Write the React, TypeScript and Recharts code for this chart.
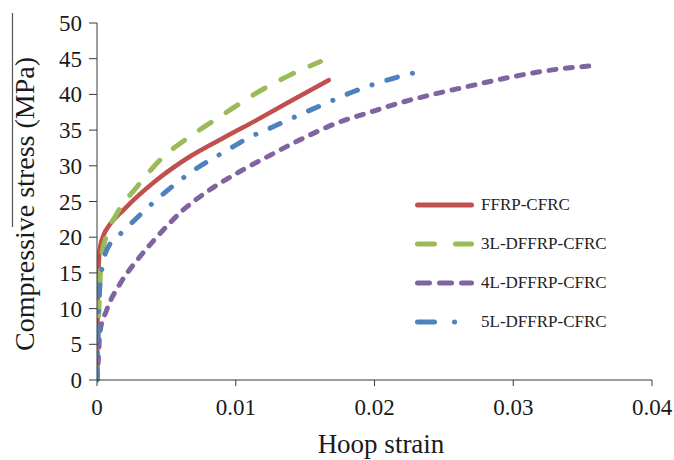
import { Label, Line, LineChart, XAxis, YAxis } from 'recharts'

const strainTicks = [0, 0.01, 0.02, 0.03, 0.04]
const stressTicks = [0, 5, 10, 15, 20, 25, 30, 35, 40, 45, 50]

const ffrpStrain = [0, 0.00005, 0.0001, 0.0002, 0.0005, 0.0009, 0.0019, 0.0043, 0.0067, 0.0091, 0.0115, 0.0139, 0.0167]
const ffrpStress = [0, 10, 15, 18.3, 20.4, 21.7, 23.8, 28.0, 31.3, 33.9, 36.4, 39.0, 42.0]

const l3Strain = [0, 0.00005, 0.0001, 0.0002, 0.0003, 0.0007, 0.0014, 0.0029, 0.0048, 0.0067, 0.0091, 0.0115, 0.0139, 0.0161]
const l3Stress = [0, 5, 8, 13, 16.8, 20.3, 23.2, 27.1, 31.3, 34.1, 37.2, 40.2, 42.7, 44.6]

const l4Strain = [0, 0.0001, 0.0002, 0.0007, 0.0017, 0.0029, 0.0043, 0.0062, 0.0081, 0.0103, 0.0125, 0.0149, 0.0173, 0.0195, 0.0218, 0.0242, 0.0267, 0.029, 0.0314, 0.0339, 0.0357]
const l4Stress = [0, 3, 6.6, 9.8, 13.6, 16.8, 20.0, 23.8, 26.6, 29.2, 31.5, 33.9, 36.0, 37.4, 38.8, 40.0, 41.1, 42.1, 43.0, 43.7, 44.0]

const l5Strain = [0, 0.0001, 0.0002, 0.0004, 0.0007, 0.002, 0.0033, 0.0053, 0.0067, 0.0094, 0.0109, 0.0125, 0.0149, 0.0168, 0.0185, 0.0209, 0.0226, 0.0236]
const l5Stress = [0, 8, 13, 16, 18.2, 21.0, 23.5, 26.9, 29.0, 32.2, 33.9, 35.3, 37.4, 39.0, 40.4, 42.0, 42.9, 43.3]

const toPoints = (xs: number[], ys: number[]) => xs.map((x, i) => ({ x, y: ys[i] }))

const series = [
  { name: 'FFRP-CFRC', data: toPoints(ffrpStrain, ffrpStress), color: '#C0504D', dash: undefined, legendDash: undefined },
  { name: '3L-DFFRP-CFRC', data: toPoints(l3Strain, l3Stress), color: '#9BBB59', dash: '14 18', legendDash: '17 21' },
  { name: '4L-DFFRP-CFRC', data: toPoints(l4Strain, l4Stress), color: '#8064A2', dash: '7 9.5', legendDash: '12 10' },
  { name: '5L-DFFRP-CFRC', data: toPoints(l5Strain, l5Stress), color: '#4F81BD', dash: '11 15.5 0.1 15.5', legendDash: '17 20 0.1 30' },
]

const serif = 'Liberation Serif'
const axisColor = '#3a3a3a'
const textColor = '#1a1a1a'

function XTick({ x, y, payload }: any) {
  return (
    <text x={x} y={y} dy={16} textAnchor='middle' fontSize={23} fontFamily={serif} fill={textColor}>
      {payload.value}
    </text>
  )
}

function YTick({ x, y, payload }: any) {
  return (
    <text x={x} y={y} dy={8} textAnchor='end' fontSize={23} fontFamily={serif} fill={textColor}>
      {payload.value}
    </text>
  )
}

function ChartLegend() {
  return (
    <div style={{ position: 'absolute', left: 412, top: 185, fontFamily: serif, fontSize: 17, color: '#222' }}>
      {series.map((s) => (
        <div key={s.name} style={{ display: 'flex', alignItems: 'center', height: 39 }}>
          <svg width={66} height={10} style={{ display: 'block' }}>
            <line
              x1={5.5}
              y1={5}
              x2={59.5}
              y2={5}
              stroke={s.color}
              strokeWidth={5}
              strokeLinecap='round'
              strokeDasharray={s.legendDash}
            />
          </svg>
          <span style={{ marginLeft: 3, lineHeight: '17px' }}>{s.name}</span>
        </div>
      ))}
    </div>
  )
}

export default function App() {
  return (
    <div style={{ position: 'absolute', left: 0, top: 0, width: 674, height: 460, background: '#fff' }}>
      <LineChart
        width={674}
        height={460}
        margin={{ top: 23, right: 22, bottom: 0, left: 0 }}
      >
        <XAxis
          type='number'
          dataKey='x'
          domain={[0, 0.04]}
          ticks={strainTicks}
          allowDataOverflow
          height={80}
          stroke={axisColor}
          tickSize={6}
          tickMargin={13}
          tick={<XTick />}
        >
          <Label
            content={() => (
              <text x={381} y={453} textAnchor='middle' fontSize={27} fontFamily={serif} fill={textColor}>
                Hoop strain
              </text>
            )}
          />
        </XAxis>
        <YAxis
          type='number'
          dataKey='y'
          domain={[0, 50]}
          ticks={stressTicks}
          width={97}
          stroke={axisColor}
          tickSize={8}
          tickMargin={7}
          tick={<YTick />}
        >
          <Label
            content={() => (
              <g>
                <line x1={12.5} y1={13} x2={12.5} y2={227} stroke='#555' strokeWidth={1.2} />
                <text
                  x={34}
                  y={204}
                  textAnchor='middle'
                  fontSize={28}
                  fontFamily={serif}
                  fill={textColor}
                  transform='rotate(-90, 34, 204)'
                >
                  Compressive stress (MPa)
                </text>
              </g>
            )}
          />
        </YAxis>
        {series.map((s) => (
          <Line
            key={s.name}
            data={s.data}
            dataKey='y'
            name={s.name}
            type='monotone'
            stroke={s.color}
            strokeWidth={s.dash ? 5 : 4.5}
            strokeDasharray={s.dash}
            strokeLinecap='round'
            dot={false}
            activeDot={false}
            isAnimationActive={false}
          />
        ))}
      </LineChart>
      <ChartLegend />
    </div>
  )
}
